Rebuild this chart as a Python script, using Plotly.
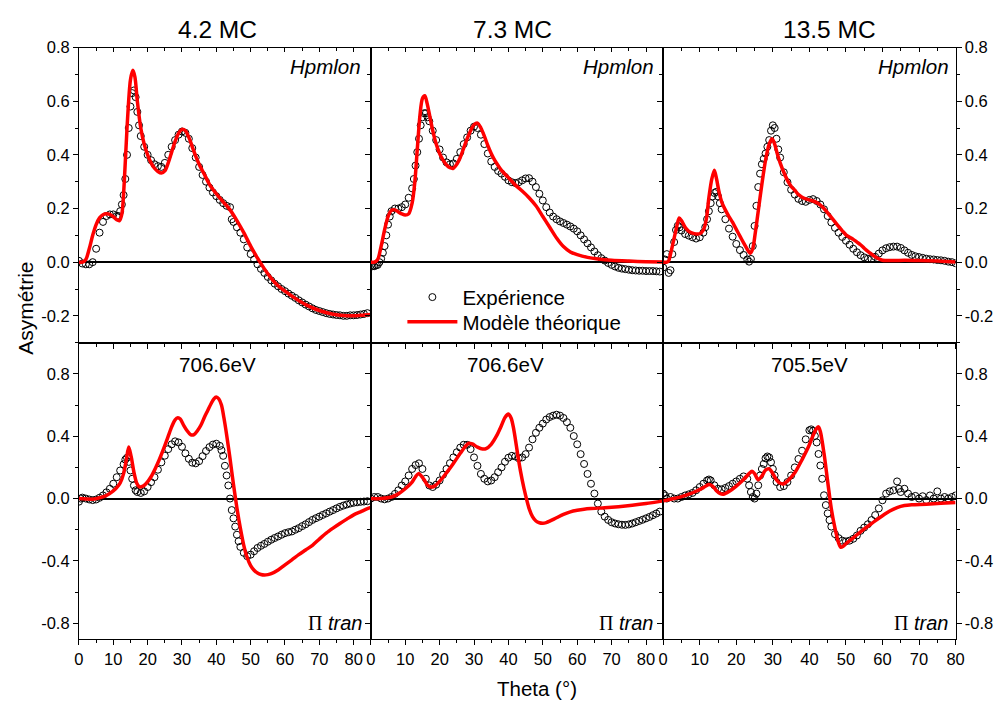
import plotly.graph_objects as go

# ---------------- data (theta in degrees, asymmetry) ----------------
column_titles = ["4.2 MC", "7.3 MC", "13.5 MC"]
energy_labels = ["706.6eV", "706.6eV", "705.5eV"]
top_label = "Hpmlon"
legend_names = ["Expérience", "Modèle théorique"]

x_tick_vals = [0, 10, 20, 30, 40, 50, 60, 70, 80]
x_tick_text = ["0", "10", "20", "30", "40", "50", "60", "70", "80"]
y_top_vals = [-0.2, 0.0, 0.2, 0.4, 0.6, 0.8]
y_top_text = ["-0.2", "0.0", "0.2", "0.4", "0.6", "0.8"]
y_bot_vals = [-0.8, -0.4, 0.0, 0.4, 0.8]
y_bot_text = ["-0.8", "-0.4", "0.0", "0.4", "0.8"]

exp_42_hp = [(0, 0.005), (1, -0.005), (2, -0.008), (3, -0.008), (4, 0.0), (5, 0.05), (6, 0.11), (7, 0.15),
             (8, 0.172), (9, 0.178), (10, 0.178), (11, 0.172), (11.5, 0.172), (12, 0.19), (12.5, 0.215),
             (13, 0.25), (13.5, 0.31), (14, 0.4), (14.5, 0.5), (15, 0.58), (15.5, 0.63), (16, 0.64),
             (16.5, 0.615), (17, 0.56), (17.5, 0.51), (18, 0.47), (19, 0.43), (20, 0.4), (21, 0.38),
             (22, 0.365), (23, 0.358), (24, 0.355), (25, 0.37), (26, 0.4), (27, 0.43), (28, 0.455),
             (29, 0.475), (30, 0.487), (31, 0.482), (32, 0.46), (33, 0.425), (34, 0.39), (35, 0.355),
             (36, 0.325), (37, 0.3), (38, 0.278), (39, 0.26), (40, 0.246), (41, 0.232), (42, 0.22),
             (43, 0.21), (44, 0.205), (44.5, 0.16), (45, 0.15), (46, 0.13), (47, 0.11), (48, 0.085),
             (49, 0.055), (50, 0.03), (51, 0.01), (52, -0.008), (53, -0.025), (54, -0.04), (55, -0.055),
             (56, -0.068), (57, -0.08), (58, -0.09), (59, -0.1), (60, -0.108), (61, -0.117), (62, -0.125),
             (63, -0.133), (64, -0.142), (65, -0.15), (66, -0.158), (67, -0.165), (68, -0.172), (69, -0.178),
             (70, -0.182), (71, -0.186), (72, -0.19), (73, -0.193), (74, -0.195), (75, -0.197), (76, -0.198),
             (77, -0.2), (78, -0.2), (79, -0.198), (80, -0.198), (81, -0.197), (82, -0.195), (83, -0.193),
             (84, -0.19)]
fit_42_hp = [(0, 0.0), (1, 0.0), (2, 0.01), (3, 0.05), (4, 0.1), (5, 0.14), (6, 0.165), (7, 0.177), (8, 0.18),
             (9, 0.178), (10, 0.17), (11, 0.158), (11.8, 0.155), (12.5, 0.18), (13.2, 0.3), (14, 0.5),
             (15, 0.68), (15.7, 0.715), (16.3, 0.69), (17, 0.6), (18, 0.5), (19, 0.44), (20, 0.4), (21, 0.37),
             (22, 0.35), (23, 0.338), (24, 0.332), (25, 0.34), (26, 0.37), (27, 0.41), (28, 0.45), (29, 0.48),
             (30, 0.495), (31, 0.49), (32, 0.465), (33, 0.43), (34, 0.395), (35, 0.365), (36, 0.34),
             (37, 0.315), (38, 0.29), (40, 0.255), (42, 0.225), (44, 0.195), (46, 0.155), (48, 0.11),
             (50, 0.06), (52, 0.015), (54, -0.025), (56, -0.06), (58, -0.088), (60, -0.108), (63, -0.135),
             (66, -0.158), (70, -0.18), (74, -0.194), (78, -0.2), (82, -0.198), (85, -0.195)]

exp_73_hp = [(0, -0.012), (0.5, -0.015), (1, -0.015), (1.5, -0.012), (2, -0.01), (2.5, 0.0), (3, 0.013),
             (3.5, 0.035), (4, 0.06), (4.5, 0.1), (5, 0.14), (5.5, 0.17), (6, 0.19), (7, 0.2), (8, 0.2),
             (9, 0.205), (10, 0.215), (11, 0.24), (12, 0.275), (12.5, 0.31), (13, 0.36), (13.5, 0.41),
             (14, 0.46), (14.5, 0.51), (15, 0.54), (15.5, 0.555), (16, 0.555), (16.5, 0.54), (17, 0.525),
             (18, 0.49), (19, 0.455), (20, 0.42), (21, 0.39), (22, 0.372), (23, 0.365), (24, 0.368),
             (25, 0.385), (26, 0.41), (27, 0.44), (28, 0.465), (29, 0.49), (30, 0.505), (31, 0.5),
             (32, 0.475), (33, 0.44), (34, 0.405), (35, 0.375), (36, 0.355), (37, 0.34), (38, 0.33),
             (39, 0.318), (40, 0.305), (41, 0.298), (42, 0.295), (43, 0.298), (44, 0.305), (45, 0.312),
             (46, 0.313), (47, 0.3), (48, 0.28), (49, 0.255), (50, 0.23), (51, 0.205), (52, 0.185),
             (53, 0.17), (54, 0.16), (55, 0.152), (56, 0.146), (57, 0.14), (58, 0.133), (59, 0.125),
             (60, 0.115), (61, 0.1), (62, 0.085), (63, 0.07), (64, 0.055), (65, 0.04), (66, 0.026),
             (67, 0.015), (68, 0.006), (69, -0.003), (70, -0.01), (71, -0.016), (72, -0.021), (73, -0.024),
             (74, -0.026), (75, -0.028), (76, -0.03), (77, -0.031), (78, -0.032), (79, -0.032), (80, -0.033),
             (81, -0.033), (82, -0.033), (83, -0.034), (84, -0.035)]
fit_73_hp = [(0, 0.0), (1, 0.0), (2, 0.01), (3, 0.06), (4, 0.12), (5, 0.17), (6, 0.193), (7, 0.195),
             (8, 0.187), (9, 0.18), (10, 0.176), (11, 0.18), (12, 0.22), (12.8, 0.3), (13.5, 0.42),
             (14.3, 0.55), (15, 0.61), (15.7, 0.62), (16.4, 0.59), (17.2, 0.54), (18, 0.49), (19, 0.44),
             (20, 0.405), (21, 0.38), (22, 0.362), (23, 0.352), (24, 0.35), (25, 0.365), (26, 0.39),
             (27, 0.425), (28, 0.46), (29, 0.49), (30, 0.512), (31, 0.518), (32, 0.5), (33, 0.47),
             (34, 0.435), (35, 0.405), (36, 0.38), (37, 0.36), (38, 0.342), (40, 0.315), (42, 0.288),
             (44, 0.265), (46, 0.24), (48, 0.21), (50, 0.17), (52, 0.13), (54, 0.09), (56, 0.058),
             (58, 0.038), (60, 0.028), (63, 0.018), (66, 0.012), (70, 0.007), (75, 0.004), (80, 0.002),
             (85, 0.001)]

exp_135_hp = [(0, -0.02), (0.5, 0.01), (1, 0.03), (1.5, -0.04), (2, -0.03), (2.5, 0.03), (3, 0.075),
              (3.5, 0.12), (4, 0.136), (4.5, 0.13), (5, 0.118), (6, 0.105), (7, 0.099), (8, 0.093),
              (9, 0.088), (10, 0.093), (11, 0.11), (11.5, 0.13), (12, 0.16), (12.5, 0.19), (13, 0.22),
              (13.5, 0.245), (14, 0.258), (14.5, 0.262), (15, 0.245), (15.5, 0.22), (16, 0.197), (17, 0.16),
              (18, 0.125), (19, 0.095), (20, 0.068), (21, 0.045), (22, 0.027), (23, 0.01), (23.5, 0.002),
              (24, 0.012), (24.5, 0.06), (25, 0.135), (25.5, 0.21), (26, 0.28), (26.5, 0.33), (27, 0.365),
              (27.5, 0.385), (28, 0.405), (28.5, 0.43), (29, 0.455), (29.5, 0.49), (30, 0.51), (30.5, 0.5),
              (31, 0.46), (31.5, 0.42), (32, 0.39), (33, 0.335), (34, 0.298), (35, 0.27), (36, 0.252),
              (37, 0.236), (38, 0.228), (39, 0.225), (40, 0.232), (41, 0.235), (42, 0.228), (43, 0.215),
              (44, 0.197), (45, 0.172), (46, 0.148), (47, 0.128), (48, 0.11), (49, 0.094), (50, 0.08),
              (51, 0.065), (52, 0.05), (53, 0.037), (54, 0.026), (55, 0.018), (56, 0.013), (57, 0.012),
              (58, 0.02), (59, 0.032), (60, 0.044), (61, 0.052), (62, 0.056), (63, 0.058), (64, 0.058),
              (65, 0.053), (66, 0.044), (67, 0.035), (68, 0.027), (69, 0.022), (70, 0.019), (71, 0.016),
              (72, 0.013), (73, 0.011), (74, 0.01), (75, 0.008), (76, 0.007), (77, 0.005), (78, 0.002),
              (79, 0.0), (80, -0.004)]
fit_135_hp = [(0, 0.0), (1, 0.0), (1.5, 0.005), (2, 0.03), (3, 0.09), (4, 0.15), (4.4, 0.165), (5, 0.155),
              (6, 0.13), (7, 0.115), (8, 0.108), (9, 0.105), (10, 0.106), (11, 0.12), (11.8, 0.16),
              (12.5, 0.24), (13.3, 0.31), (14, 0.343), (14.6, 0.31), (15.3, 0.26), (16, 0.225), (17, 0.195),
              (18, 0.17), (19, 0.148), (20, 0.122), (21, 0.097), (22, 0.072), (23, 0.048), (23.8, 0.033),
              (24.5, 0.05), (25.2, 0.11), (26, 0.19), (27, 0.29), (28, 0.38), (29, 0.44), (29.8, 0.46),
              (30.5, 0.44), (31.2, 0.405), (32, 0.37), (33, 0.335), (34, 0.305), (35, 0.283), (36, 0.268),
              (37, 0.252), (38, 0.242), (39, 0.236), (40, 0.232), (41, 0.228), (42, 0.222), (43, 0.213),
              (44, 0.2), (45, 0.184), (46, 0.167), (47, 0.15), (48, 0.133), (49, 0.117), (50, 0.102),
              (51, 0.093), (52, 0.085), (53, 0.075), (54, 0.065), (55, 0.052), (56, 0.04), (57, 0.03),
              (58, 0.02), (59, 0.012), (60, 0.007), (63, 0.006), (66, 0.007), (70, 0.006), (75, 0.004),
              (80, 0.001)]

exp_42_pi = [(0, -0.02), (0.5, 0.0), (1, 0.006), (2, 0.0), (3, -0.006), (4, -0.01), (5, -0.006), (6, 0.005),
             (7, 0.02), (8, 0.04), (9, 0.063), (10, 0.095), (11, 0.137), (12, 0.18), (13, 0.22), (13.5, 0.25),
             (14, 0.262), (14.5, 0.235), (15, 0.18), (15.5, 0.127), (16, 0.084), (16.5, 0.053), (17, 0.042),
             (18, 0.036), (19, 0.046), (20, 0.074), (21, 0.105), (22, 0.137), (23, 0.185), (24, 0.232),
             (25, 0.275), (26, 0.317), (27, 0.348), (28, 0.367), (29, 0.36), (30, 0.332), (31, 0.29),
             (32, 0.255), (33, 0.23), (34, 0.226), (35, 0.24), (36, 0.272), (37, 0.305), (38, 0.33),
             (39, 0.346), (40, 0.352), (41, 0.338), (41.5, 0.31), (42, 0.274), (42.5, 0.21), (43, 0.148),
             (43.5, 0.084), (44, 0.0), (44.5, -0.074), (45, -0.127), (45.5, -0.18), (46, -0.232),
             (46.5, -0.274), (47, -0.31), (48, -0.348), (49, -0.37), (50, -0.36), (51, -0.338), (52, -0.317),
             (53, -0.303), (54, -0.291), (55, -0.277), (56, -0.264), (57, -0.253), (58, -0.243), (59, -0.232),
             (60, -0.222), (61, -0.216), (62, -0.211), (63, -0.2), (64, -0.19), (65, -0.177), (66, -0.165),
             (67, -0.151), (68, -0.137), (69, -0.126), (70, -0.116), (71, -0.105), (72, -0.095), (73, -0.084),
             (74, -0.074), (75, -0.063), (76, -0.053), (77, -0.045), (78, -0.038), (79, -0.032), (80, -0.027),
             (81, -0.024), (82, -0.021), (83, -0.019), (84, -0.017)]
fit_42_pi = [(0, 0.0), (2, -0.003), (4, -0.004), (6, 0.005), (8, 0.02), (10, 0.05), (11, 0.07), (12, 0.1),
             (13, 0.16), (13.8, 0.25), (14.5, 0.33), (15.2, 0.27), (16, 0.17), (16.8, 0.1), (17.6, 0.075),
             (18.5, 0.078), (19.5, 0.095), (21, 0.14), (23, 0.23), (25, 0.34), (26, 0.4), (27, 0.46),
             (28, 0.505), (28.8, 0.518), (29.5, 0.51), (30.5, 0.47), (31.5, 0.435), (32.5, 0.41), (33.5, 0.41),
             (34.5, 0.435), (35.5, 0.47), (36.5, 0.52), (37.5, 0.565), (38.5, 0.61), (39.3, 0.64), (40, 0.652),
             (40.7, 0.64), (41.5, 0.6), (42.2, 0.52), (43, 0.41), (44, 0.255), (45, 0.09), (46, -0.06),
             (47, -0.19), (48, -0.3), (49, -0.38), (50, -0.43), (51, -0.46), (52, -0.478), (53, -0.487),
             (54, -0.49), (55, -0.488), (56, -0.482), (58, -0.458), (60, -0.425), (62, -0.393), (64, -0.36),
             (66, -0.33), (68, -0.3), (70, -0.26), (72, -0.222), (74, -0.19), (76, -0.16), (78, -0.132),
             (80, -0.105), (82, -0.085), (84, -0.065), (85, -0.057)]

exp_73_pi = [(0, 0.0), (1, 0.01), (2, 0.01), (3, 0.0), (4, -0.005), (5, 0.0), (6, 0.01), (7, 0.03), (8, 0.053),
             (9, 0.084), (10, 0.11), (11, 0.148), (12, 0.19), (13, 0.215), (14, 0.226), (15, 0.19), (16, 0.127),
             (17, 0.084), (18, 0.074), (19, 0.089), (20, 0.116), (21, 0.153), (22, 0.19), (23, 0.227),
             (24, 0.264), (25, 0.297), (26, 0.327), (27, 0.345), (28, 0.345), (29, 0.317), (30, 0.264),
             (31, 0.21), (32, 0.158), (33, 0.127), (34, 0.11), (35, 0.116), (36, 0.137), (37, 0.169), (38, 0.2),
             (39, 0.236), (40, 0.262), (41, 0.274), (42, 0.27), (43, 0.258), (44, 0.264), (45, 0.285),
             (46, 0.327), (47, 0.38), (48, 0.422), (49, 0.454), (50, 0.481), (51, 0.507), (52, 0.523),
             (53, 0.532), (54, 0.538), (55, 0.532), (56, 0.517), (57, 0.49), (58, 0.454), (59, 0.401),
             (60, 0.348), (61, 0.285), (62, 0.222), (63, 0.158), (64, 0.095), (65, 0.032), (66, -0.032),
             (67, -0.084), (68, -0.116), (69, -0.137), (70, -0.152), (71, -0.16), (72, -0.165), (73, -0.168),
             (74, -0.169), (75, -0.166), (76, -0.16), (77, -0.152), (78, -0.144), (79, -0.136), (80, -0.127),
             (81, -0.118), (82, -0.107), (83, -0.096), (84, -0.084)]
fit_73_pi = [(0, 0.0), (3, 0.0), (6, 0.01), (8, 0.03), (10, 0.063), (12, 0.105), (13, 0.14), (13.8, 0.16),
             (14.5, 0.15), (15.5, 0.12), (16.5, 0.085), (17.3, 0.074), (18.5, 0.08), (20, 0.11), (22, 0.165),
             (24, 0.225), (26, 0.29), (27.5, 0.335), (28.5, 0.355), (29.5, 0.35), (31, 0.33), (32.5, 0.318),
             (33.5, 0.32), (35, 0.348), (36.5, 0.4), (38, 0.47), (39, 0.52), (40, 0.542), (40.8, 0.515),
             (41.5, 0.45), (42.3, 0.34), (43, 0.24), (44, 0.12), (45, 0.02), (46, -0.063), (47, -0.116),
             (48, -0.144), (49, -0.155), (50, -0.158), (51, -0.154), (52, -0.145), (54, -0.123), (56, -0.102),
             (58, -0.085), (60, -0.075), (62, -0.068), (64, -0.064), (68, -0.059), (72, -0.052), (76, -0.043),
             (80, -0.032), (85, -0.015)]

exp_135_pi = [(0, 0.032), (0.5, 0.02), (1, 0.0), (2, 0.01), (3, 0.0), (4, 0.0), (5, 0.01), (6, 0.02), (7, 0.027),
              (8, 0.036), (9, 0.053), (10, 0.074), (11, 0.095), (12, 0.116), (12.5, 0.122), (13, 0.116),
              (14, 0.085), (15, 0.063), (16, 0.059), (17, 0.068), (18, 0.08), (19, 0.095), (20, 0.11),
              (21, 0.127), (22, 0.142), (23, 0.127), (23.5, 0.085), (24, 0.042), (24.5, 0.01), (25, 0.0),
              (25.5, 0.032), (26, 0.085), (26.5, 0.148), (27, 0.19), (27.5, 0.222), (28, 0.258), (28.5, 0.27),
              (29, 0.264), (29.5, 0.233), (30, 0.19), (30.5, 0.148), (31, 0.106), (32, 0.074), (33, 0.08),
              (34, 0.106), (35, 0.148), (36, 0.2), (37, 0.254), (38, 0.307), (39, 0.38), (40, 0.438),
              (40.5, 0.444), (41, 0.434), (41.5, 0.402), (42, 0.36), (42.5, 0.286), (43, 0.212), (43.5, 0.127),
              (44, 0.021), (44.5, -0.042), (45, -0.095), (45.5, -0.138), (46, -0.18), (47, -0.228),
              (48, -0.254), (49, -0.27), (50, -0.275), (51, -0.27), (52, -0.258), (53, -0.237), (54, -0.207),
              (55, -0.186), (56, -0.165), (57, -0.138), (58, -0.106), (59, -0.063), (60, -0.011), (61, 0.032),
              (62, 0.046), (63, 0.053), (64, 0.11), (64.5, 0.063), (65, 0.042), (66, 0.063), (67, 0.032),
              (68, 0.01), (69, 0.017), (70, 0.0), (71, 0.015), (72, -0.01), (73, 0.02), (74, 0.0), (75, 0.046),
              (76, 0.0), (77, 0.01), (78, 0.0), (79, 0.01), (80, 0.02)]
fit_135_pi = [(0, -0.015), (1.5, -0.008), (3, 0.0), (5, 0.012), (7, 0.028), (9, 0.047), (11, 0.07),
              (12.5, 0.09), (13.5, 0.08), (14.5, 0.052), (15.5, 0.033), (16.5, 0.028), (18, 0.045), (20, 0.08),
              (22, 0.122), (23.5, 0.16), (24.3, 0.175), (25, 0.16), (26, 0.12), (27, 0.145), (28, 0.182),
              (29, 0.19), (30, 0.16), (31, 0.12), (32, 0.098), (33, 0.095), (34, 0.112), (36, 0.165),
              (38, 0.25), (40, 0.345), (41, 0.405), (42, 0.45), (42.5, 0.46), (43, 0.43), (44, 0.29),
              (45, 0.11), (46, -0.065), (47, -0.19), (48, -0.285), (48.6, -0.313), (49.3, -0.305), (50, -0.29),
              (52, -0.252), (54, -0.213), (56, -0.178), (58, -0.143), (60, -0.11), (62, -0.08), (64, -0.058),
              (66, -0.045), (68, -0.04), (72, -0.036), (76, -0.03), (80, -0.025)]

# ---------------- layout geometry ----------------
W, H = 1005, 704
FONT = "Liberation Sans"
col_px = [(75, 371), (371, 667.5), (667.5, 964)]
row_px = [(39, 338), (338, 638)]
x_max = [85, 85, 80]
y_ranges = [(-0.3, 0.8), (-0.9, 1.0)]

panels = [
    (exp_42_hp, fit_42_hp, 0, 0), (exp_73_hp, fit_73_hp, 0, 1), (exp_135_hp, fit_135_hp, 0, 2),
    (exp_42_pi, fit_42_pi, 1, 0), (exp_73_pi, fit_73_pi, 1, 1), (exp_135_pi, fit_135_pi, 1, 2),
]


def ref(letter, n):
    return letter if n == 1 else f"{letter}{n}"


def key(letter, n):
    return f"{letter}axis" if n == 1 else f"{letter}axis{n}"


fig = go.Figure()
layout_axes = {}
tickfont = dict(family=FONT, size=16.5, color="black")

for i, (exp, fit, row, col) in enumerate(panels, start=1):
    xr, yr = ref("x", i), ref("y", i)
    xt, yrt = ref("x", i + 6), ref("y", i + 6)
    fig.add_trace(go.Scatter(
        x=[p[0] for p in exp], y=[p[1] for p in exp], mode="markers", xaxis=xr, yaxis=yr,
        name=legend_names[0], showlegend=(i == 1), legend="legend",
        marker=dict(symbol="circle-open", size=7, color="black", line=dict(width=1, color="black")),
        hoverinfo="skip"))
    fig.add_trace(go.Scatter(
        x=[p[0] for p in fit], y=[p[1] for p in fit], mode="lines", xaxis=xr, yaxis=yr,
        name=legend_names[1], showlegend=(i == 1), legend="legend2",
        line=dict(color="#ff0000", width=3.5, shape="spline", smoothing=0.8),
        hoverinfo="skip"))
    # empty traces registering the top / right tick axes
    fig.add_trace(go.Scatter(x=[], y=[], xaxis=xt, yaxis=yr, showlegend=False, hoverinfo="skip"))
    fig.add_trace(go.Scatter(x=[], y=[], xaxis=xr, yaxis=yrt, showlegend=False, hoverinfo="skip"))

    x0, x1 = col_px[col]
    y0, y1 = row_px[row]
    ytv, ytt = (y_top_vals, y_top_text) if row == 0 else (y_bot_vals, y_bot_text)
    ymin_dt = 0.1 if row == 0 else 0.2

    layout_axes[key("x", i)] = dict(
        domain=[x0 / W, x1 / W], range=[0, x_max[col]], anchor=yr,
        showline=True, mirror=True, linecolor="black", linewidth=1,
        ticks="outside", ticklen=5, tickwidth=1, tickcolor="black",
        tickmode="array", tickvals=x_tick_vals, ticktext=x_tick_text,
        showticklabels=(row == 1), tickfont=tickfont,
        minor=dict(ticks="outside", ticklen=3, tickwidth=1, tickcolor="black", dtick=5, tick0=0),
        showgrid=False, zeroline=False, fixedrange=True)
    layout_axes[key("x", i + 6)] = dict(
        overlaying=xr, side="top", anchor=yr, range=[0, x_max[col]],
        ticks="inside", ticklen=4, tickwidth=1, tickcolor="black",
        tickmode="array", tickvals=x_tick_vals, showticklabels=False,
        minor=dict(ticks="inside", ticklen=3, tickwidth=1, tickcolor="black", dtick=5, tick0=0),
        showline=False, showgrid=False, zeroline=False, fixedrange=True)
    layout_axes[key("y", i)] = dict(
        domain=[1 - y1 / H, 1 - y0 / H], range=list(y_ranges[row]), anchor=xr,
        showline=True, mirror=True, linecolor="black", linewidth=1,
        ticks="outside", ticklen=5, tickwidth=1, tickcolor="black",
        tickmode="array", tickvals=ytv, ticktext=ytt,
        showticklabels=(col == 0), tickfont=tickfont,
        minor=dict(ticks="outside", ticklen=3, tickwidth=1, tickcolor="black", dtick=ymin_dt, tick0=0),
        showgrid=False, zeroline=True, zerolinecolor="black", zerolinewidth=1.5, fixedrange=True)
    right_dir = "outside" if col == 2 else "inside"
    layout_axes[key("y", i + 6)] = dict(
        overlaying=yr, side="right", anchor=xr, range=list(y_ranges[row]),
        ticks=right_dir, ticklen=5, tickwidth=1, tickcolor="black",
        tickmode="array", tickvals=ytv, ticktext=ytt,
        showticklabels=(col == 2), tickfont=tickfont,
        minor=dict(ticks=right_dir, ticklen=3, tickwidth=1, tickcolor="black", dtick=ymin_dt, tick0=0),
        showline=False, showgrid=False, zeroline=False, fixedrange=True)

fig.update_layout(**layout_axes)


def ann(text, x, y, size, xanchor="center", yanchor="middle", angle=0):
    return dict(text=text, x=x / W, y=1 - y / H, xref="paper", yref="paper", showarrow=False,
                xanchor=xanchor, yanchor=yanchor, textangle=angle,
                font=dict(family=FONT, size=size, color="black"))


annotations = []
for txt, xc in zip(column_titles, [215, 515, 836]):
    annotations.append(ann(txt, xc, 21, 24.5))
for xr_ in [363, 660, 959]:
    annotations.append(ann(f"<i>{top_label}</i>", xr_, 58, 20.5, xanchor="right"))
for txt, xc in zip(energy_labels, [215, 508, 816]):
    annotations.append(ann(txt, xc, 360, 20.6))
for xr_ in [364, 659, 958]:
    annotations.append(ann("<span style='font-family:Liberation Serif'>Π</span> <i>tran</i>",
                           xr_, 622, 20, xanchor="right"))
annotations.append(ann("Asymétrie", 20, 303, 21, angle=-90))
annotations.append(ann("Theta (°)", 540, 688, 20.5))

legend_common = dict(xanchor="left", yanchor="middle", bgcolor="rgba(0,0,0,0)", borderwidth=0,
                     itemwidth=50, font=dict(family=FONT, size=20.5, color="black"))
fig.update_layout(
    width=W, height=H, margin=dict(l=0, r=0, t=0, b=0),
    paper_bgcolor="white", plot_bgcolor="white",
    font=dict(family=FONT, size=16, color="black"),
    annotations=annotations,
    showlegend=True,
    legend=dict(x=403 / W, y=1 - 292 / H, **legend_common),
    legend2=dict(x=403 / W, y=1 - 317 / H, **legend_common),
)

pin_page = (
    "var gd=document.getElementById('{plot_id}');"
    "gd.style.position='fixed';gd.style.left='0px';gd.style.top='0px';gd.style.margin='0';"
    "document.documentElement.style.margin='0';document.documentElement.style.padding='0';"
    "document.documentElement.style.overflow='hidden';"
    "document.body.style.margin='0';document.body.style.padding='0';document.body.style.overflow='hidden';"
)
fig.write_html("out.html", config={"displayModeBar": False}, post_script=pin_page)
